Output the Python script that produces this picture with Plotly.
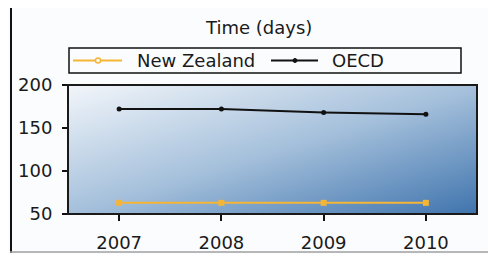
import base64
import struct
import zlib

import plotly.graph_objects as go

years = ["2007", "2008", "2009", "2010"]
nz = [63, 63, 63, 63]
oecd = [172, 172, 168, 166]
y_ticks = [50, 100, 150, 200]

# page body has an 8px margin; the figure is laid out in reference pixels minus OFF
OFF = 8
W, H = 496 - OFF, 254 - OFF
PL, PR, PT, PB = 68, 477, 85, 214          # plot area in reference pixels
L, T = PL - OFF, PT - OFF
R, B = W - (PR - OFF), H - (PB - OFF)


def gradient_png(w, h, c0, c1, c2):
    """Diagonal gradient image (top-left c0 -> mid c1 -> bottom-right c2)."""
    rows = []
    for j in range(h):
        row = bytearray([0])
        for i in range(w):
            t = (i / (w - 1) + j / (h - 1)) / 2.0
            if t < 0.5:
                a, b, u = c0, c1, t / 0.5
            else:
                a, b, u = c1, c2, (t - 0.5) / 0.5
            row += bytes(int(round(a[k] + (b[k] - a[k]) * u)) for k in range(3))
        rows.append(bytes(row))
    raw = b"".join(rows)

    def chunk(tag, data):
        c = struct.pack(">I", len(data)) + tag + data
        return c + struct.pack(">I", zlib.crc32(tag + data) & 0xFFFFFFFF)

    png = b"\x89PNG\r\n\x1a\n"
    png += chunk(b"IHDR", struct.pack(">IIBBBBB", w, h, 8, 2, 0, 0, 0))
    png += chunk(b"IDAT", zlib.compress(raw, 9))
    png += chunk(b"IEND", b"")
    return "data:image/png;base64," + base64.b64encode(png).decode()


bg = gradient_png(96, 32, (241, 245, 250), (166, 193, 220), (66, 118, 175))

fig = go.Figure()
fig.add_trace(go.Scatter(
    x=years, y=nz, name="New Zealand", mode="lines+markers",
    line=dict(color="#f5b536", width=2),
    marker=dict(symbol="square", size=6, color="#f5b536"),
))
fig.add_trace(go.Scatter(
    x=years, y=oecd, name="OECD", mode="lines+markers",
    line=dict(color="#111111", width=2),
    marker=dict(symbol="circle", size=5, color="#111111"),
))
# invisible trace binding the overlay axes (which only draw the short tick marks)
fig.add_trace(go.Scatter(
    x=years, y=oecd, xaxis="x2", yaxis="y2", mode="markers",
    marker=dict(opacity=0), hoverinfo="skip", showlegend=False,
))

font = "DejaVu Sans, Verdana, sans-serif"
FS = 18
CLEAR = "rgba(0,0,0,0)"


def px_x(p):
    """reference pixel x -> paper coordinate"""
    return (p - PL) / (PR - PL)


def px_y(p):
    """reference pixel y -> paper coordinate"""
    return (PB - p) / (PB - PT)


fig.update_layout(
    width=W, height=H,
    margin=dict(l=L, r=R, t=T, b=B, pad=0, autoexpand=False),
    paper_bgcolor="#fbfcfd",
    plot_bgcolor=CLEAR,
    showlegend=False,
    font=dict(family=font, size=FS, color="#1a1a1a"),
    # main axes: labels (transparent long ticks push the labels away)
    xaxis=dict(
        type="category", categoryarray=years, range=[-0.5, 3.5],
        showgrid=False, zeroline=False, showline=False,
        ticks="outside", ticklen=12, tickcolor=CLEAR, tickfont=dict(size=FS),
    ),
    yaxis=dict(
        range=[50, 200], tickvals=y_ticks, showgrid=False, zeroline=False,
        showline=False, ticks="outside", ticklen=11, tickcolor=CLEAR,
        tickfont=dict(size=FS),
    ),
    # overlay axes: short visible tick marks only
    xaxis2=dict(
        type="category", categoryarray=years, range=[-0.5, 3.5],
        overlaying="x", side="bottom", showgrid=False, zeroline=False,
        showline=False, showticklabels=False, ticks="outside", ticklen=6,
        tickwidth=2, tickcolor="#111",
    ),
    yaxis2=dict(
        range=[50, 200], overlaying="y", side="left", tickvals=y_ticks,
        showgrid=False, zeroline=False, showline=False, showticklabels=False,
        ticks="outside", ticklen=5, tickwidth=2, tickcolor="#111",
    ),
    images=[dict(
        source=bg, xref="paper", yref="paper", x=0, y=1, sizex=1, sizey=1,
        xanchor="left", yanchor="top", sizing="stretch", layer="below",
    )],
    shapes=[
        # plot frame
        dict(type="rect", xref="paper", yref="paper", x0=0, x1=1, y0=0, y1=1,
             line=dict(color="#1a1a1a", width=2), layer="above"),
        # outer border: left, top (black) and bottom (grey)
        dict(type="line", xref="paper", yref="paper",
             x0=px_x(11), x1=px_x(11), y0=px_y(253), y1=px_y(5),
             line=dict(color="#111111", width=2)),
        dict(type="line", xref="paper", yref="paper",
             x0=px_x(10), x1=px_x(505), y0=px_y(6), y1=px_y(6),
             line=dict(color="#111111", width=2)),
        dict(type="line", xref="paper", yref="paper",
             x0=px_x(10), x1=px_x(505), y0=px_y(252), y1=px_y(252),
             line=dict(color="#a0a0a0", width=1.5)),
        # legend box
        dict(type="rect", xref="paper", yref="paper",
             x0=px_x(69), x1=px_x(461), y0=px_y(73), y1=px_y(48),
             line=dict(color="#111111", width=1.5), fillcolor=CLEAR),
        # legend samples
        dict(type="line", xref="paper", yref="paper",
             x0=px_x(73), x1=px_x(122), y0=px_y(60.5), y1=px_y(60.5),
             line=dict(color="#f5b536", width=2)),
        dict(type="line", xref="paper", yref="paper",
             x0=px_x(271), x1=px_x(318), y0=px_y(60.5), y1=px_y(60.5),
             line=dict(color="#111111", width=2)),
        dict(type="circle", xref="paper", yref="paper",
             x0=px_x(95.5), x1=px_x(100.5), y0=px_y(63), y1=px_y(58),
             line=dict(color="#f5b536", width=1.5), fillcolor="#ffffff"),
        dict(type="circle", xref="paper", yref="paper",
             x0=px_x(293), x1=px_x(297), y0=px_y(62.5), y1=px_y(58.5),
             line=dict(color="#111111", width=1), fillcolor="#111111"),
    ],
    annotations=[
        dict(text="Time (days)", xref="paper", yref="paper",
             x=px_x(258), y=px_y(27), showarrow=False,
             font=dict(size=FS, family=font), xanchor="center", yanchor="middle"),
        dict(text="New Zealand", xref="paper", yref="paper",
             x=px_x(135), y=px_y(60), showarrow=False,
             font=dict(size=FS, family=font), xanchor="left", yanchor="middle"),
        dict(text="OECD", xref="paper", yref="paper",
             x=px_x(330), y=px_y(60), showarrow=False,
             font=dict(size=FS, family=font), xanchor="left", yanchor="middle"),
    ],
)

fig.write_html("out.html")
